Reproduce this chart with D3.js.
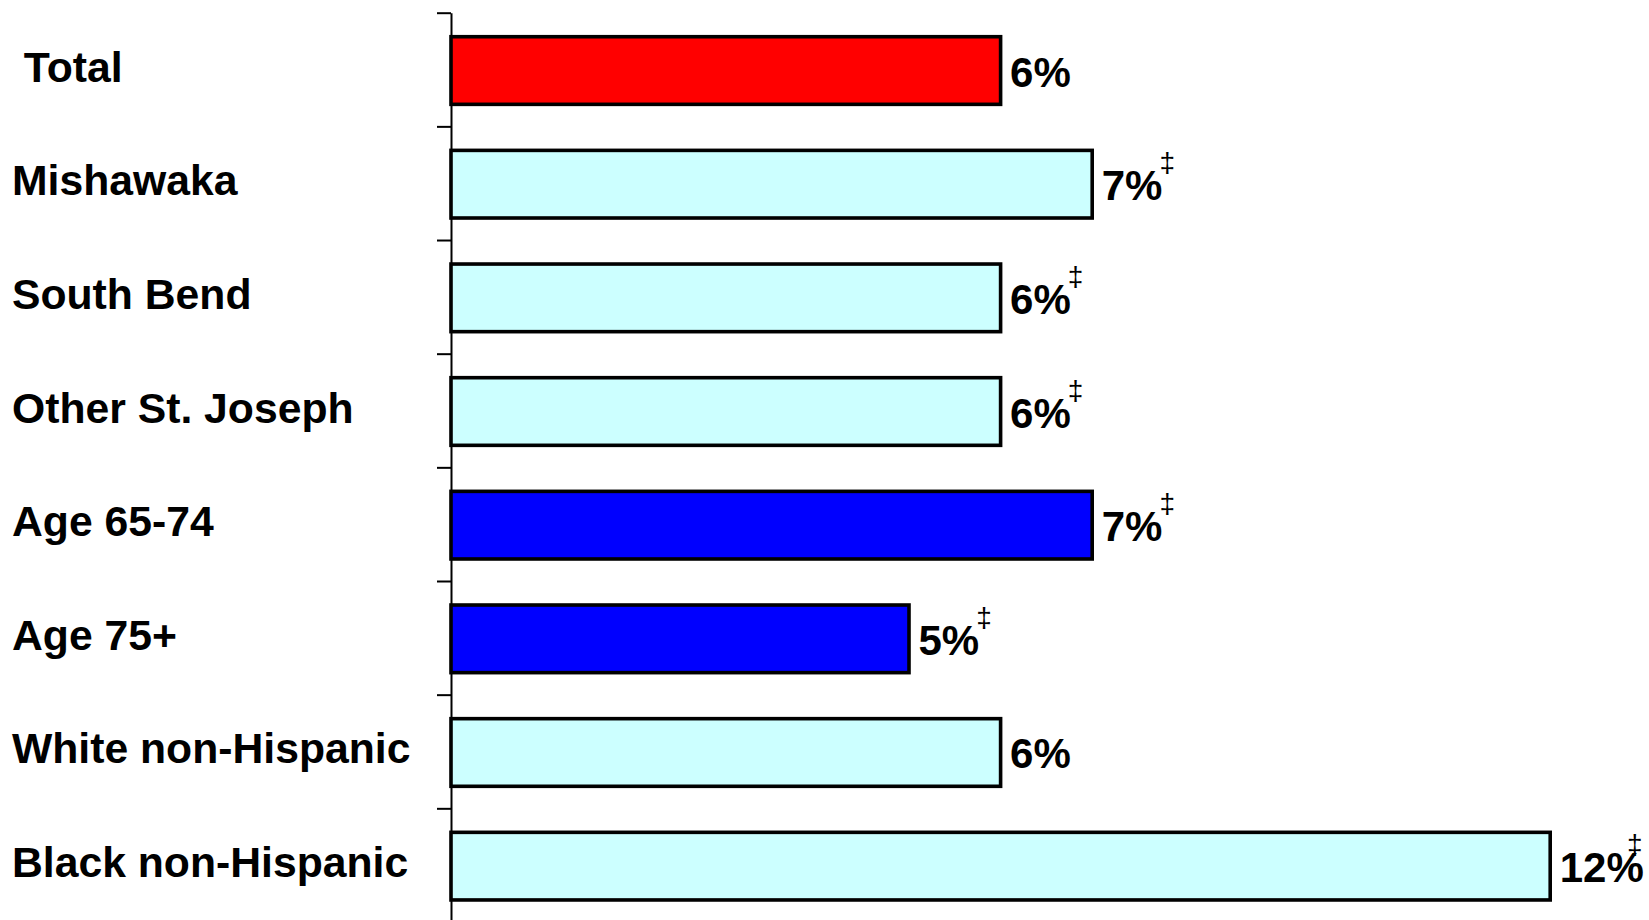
<!DOCTYPE html>
<html>
<head>
<meta charset="utf-8">
<script src="https://cdn.jsdelivr.net/npm/d3@7"></script>
<style>
  body { margin: 0; background: #fff; }
  text { font-family: "Liberation Sans", Arial, sans-serif; font-weight: bold; fill: #000; }
  .cat { white-space: pre; }
</style>
</head>
<body>
<div id="chart"></div>
<script>
// データ
const categories = [' Total', 'Mishawaka', 'South Bend', 'Other St. Joseph',
  'Age 65-74', 'Age 75+', 'White non-Hispanic', 'Black non-Hispanic'];
const values = [6, 7, 6, 6, 7, 5, 6, 12];
const groups = ['total', 'area', 'area', 'area', 'age', 'age', 'race', 'race'];
const flagged = [false, true, true, true, true, true, false, true];

const data = categories.map((c, i) => ({
  cat: c, value: values[i], group: groups[i], flag: flagged[i]
}));

// svg領域設定
const svgWidth = 1649;
const svgHeight = 920;
const svg = d3.select('#chart')
  .append('svg')
  .attr('width', svgWidth)
  .attr('height', svgHeight);

// グラフ領域
const x0 = 451;
const plotTop = 12.7;
const step = 113.66;
const plotBottom = plotTop + step * categories.length;

// scale設定
const xScale = d3.scaleLinear().domain([0, 12]).range([x0, x0 + 12 * 91.6]);
const yScale = d3.scaleBand()
  .domain(categories)
  .range([plotTop + 1, plotBottom + 1])
  .paddingInner(0.405)
  .paddingOuter(0.2025);
const tickScale = d3.scaleLinear().domain([0, categories.length]).range([plotTop, plotBottom]);
const color = d3.scaleOrdinal()
  .domain(['total', 'area', 'age', 'race'])
  .range(['#ff0000', '#ccffff', '#0000ff', '#ccffff']);

// 軸
const axis = svg.append('g')
  .attr('transform', `translate(${x0},0)`)
  .call(d3.axisLeft(tickScale)
    .tickValues(d3.range(0, categories.length + 1))
    .tickSize(14)
    .tickSizeOuter(0)
    .tickFormat(''));
axis.selectAll('path, line').attr('stroke', '#000').attr('stroke-width', 2);

// 棒
svg.selectAll('rect.bar')
  .data(data)
  .enter()
  .append('rect')
  .attr('class', 'bar')
  .attr('x', xScale(0))
  .attr('y', d => yScale(d.cat))
  .attr('width', d => xScale(d.value) - xScale(0))
  .attr('height', yScale.bandwidth())
  .attr('fill', d => color(d.group))
  .attr('stroke', '#000')
  .attr('stroke-width', 3.6);

// カテゴリラベル
svg.selectAll('text.cat')
  .data(data)
  .enter()
  .append('text')
  .attr('class', 'cat')
  .attr('x', 12)
  .attr('y', d => yScale(d.cat) + yScale.bandwidth() / 2 + 11)
  .style('font-size', '42.7px')
  .text(d => d.cat);

// 値ラベル
const labels = svg.selectAll('text.val')
  .data(data)
  .enter()
  .append('text')
  .attr('class', 'val')
  .attr('x', d => xScale(d.value) + 9.5)
  .attr('y', d => yScale(d.cat) + yScale.bandwidth() / 2 + 16)
  .style('font-size', '42px')
  .text(d => d.value + '%');

// ‡ 記号
labels.each(function(d) {
  if (!d.flag) return;
  const end = xScale(d.value) + 9.5 + this.getComputedTextLength();
  svg.append('text')
    .attr('x', Math.min(end - 3, svgWidth - 22))
    .attr('y', yScale(d.cat) + yScale.bandwidth() / 2 + 16 - 28)
    .style('font-size', '28px')
    .style('font-weight', 'normal')
    .text('\u2021');
});
</script>
</body>
</html>
